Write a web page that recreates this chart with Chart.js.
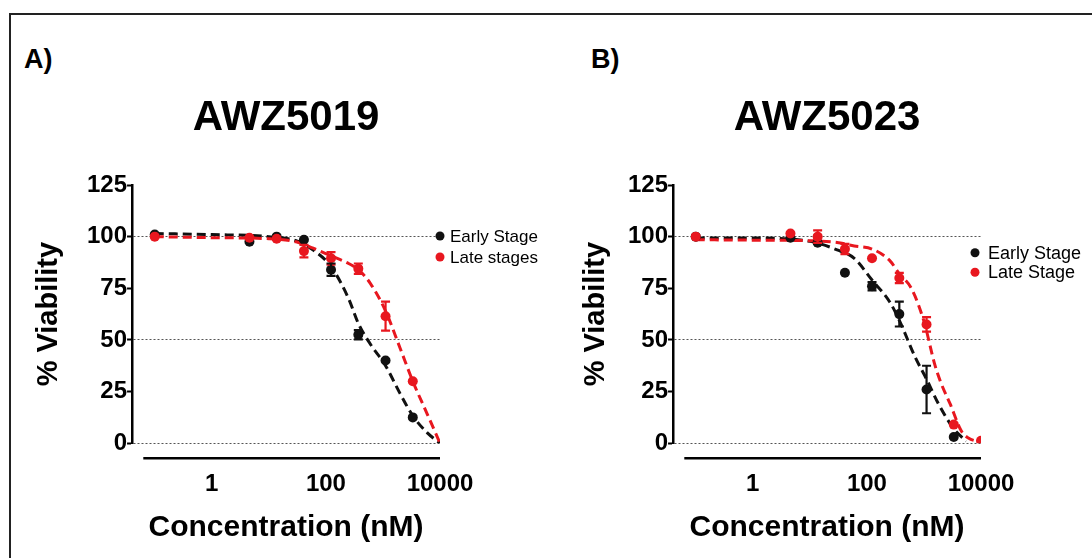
<!DOCTYPE html>
<html>
<head>
<meta charset="utf-8">
<script src="https://cdn.jsdelivr.net/npm/chart.js@4.4.1/dist/chart.umd.min.js"></script>
<style>
  html, body { margin: 0; padding: 0; background: #fff; overflow: hidden; }
  body { width: 1092px; height: 558px; position: relative; font-family: 'Liberation Sans', Arial, sans-serif; }
  #frame { position: absolute; left: 9px; top: 13px; width: 1090px; height: 550px; border-top: 2px solid #222; border-left: 2px solid #222; }
  .tag { position: absolute; top: 44px; font-weight: bold; font-size: 27px; color: #000; }
  canvas { position: absolute; top: 0; }
</style>
</head>
<body>
<div id="frame"></div>
<div class="tag" style="left:24px">A)</div>
<div class="tag" style="left:591px">B)</div>
<canvas id="chartA" style="left:0px" width="580" height="558"></canvas>
<canvas id="chartB" style="left:541px" width="586" height="558"></canvas>
<script>
// axis ticks
const yTicks = [0, 25, 50, 75, 100, 125];
const xTicks = [1, 100, 10000];
const gridValues = [0, 50, 100];

// Panel A - AWZ5019 (concentration in nM, % viability)
const concA = [0.1, 4.57, 13.7, 41.2, 123, 370, 1111, 3333];
const earlyA = [101, 97.5, 100, 98.5, 84, 52.5, 40, 12.5];
const earlyErrA = [0, 0, 0, 0, 3, 2.2, 0, 0];
const lateA = [100, 99.5, 99, 93, 89.5, 84.5, 61.5, 30];
const lateErrA = [0, 0, 0, 3, 3, 2.5, 7, 0];
const earlyFitXA = [0.1, 1, 10, 30, 60, 123, 250, 370, 600, 1111, 2000, 3333, 6000, 10000];
const earlyFitA = [101.5, 101, 100, 98, 93.5, 85.5, 70, 58, 48, 37.5, 24, 13.3, 5, 0];
const lateFitXA = [0.1, 1, 10, 30, 60, 123, 250, 370, 600, 1111, 2000, 3333, 6000, 10000];
const lateFitA = [100, 99.5, 99, 97.5, 94.4, 90.7, 87, 84, 77.4, 64, 46, 30, 14, 0];
const namesA = ['Early Stage', 'Late stages'];

// Panel B - AWZ5023
const concB = [0.1, 4.57, 13.7, 41.2, 123, 370, 1111, 3333, 10000];
const earlyB = [100, 99.5, 97, 82.5, 76, 62.5, 26, 3, null];
const earlyErrB = [0, 0, 0, 0, 2, 6, 11.5, 0, 0];
const lateB = [100, 101.5, 100, 94, 89.5, 80, 57.5, 9, 1.2];
const lateErrB = [0, 0, 3, 2.5, 0, 2.5, 3.5, 0, 0];
const earlyFitXB = [0.1, 1, 10, 30, 60, 123, 250, 370, 700, 1111, 1800, 3333, 5500];
const earlyFitB = [99.3, 99.3, 97.7, 93.6, 89.5, 79, 68.5, 59.5, 41.7, 31, 19, 7, 1];
const lateFitXB = [0.1, 1, 10, 30, 60, 123, 250, 370, 600, 1000, 1550, 2000, 2880, 4500, 6000, 10000];
const lateFitB = [98.5, 98.3, 98, 97.2, 95.5, 94, 88.5, 82, 75, 59, 38, 29, 19, 6, 2.5, 0.5];
const namesB = ['Early Stage', 'Late Stage'];

const FONT = "'Liberation Sans', Arial, Helvetica, sans-serif";
const BLACK = '#111111';
const RED = '#e8171f';

function pts(xs, ys) {
    const out = [];
    xs.forEach((x, i) => { if (ys[i] !== null) out.push({ x: x, y: ys[i] }); });
    return out;
}

// error bars with caps
const errorBars = {
    id: 'errorBars',
    afterDatasetsDraw(chart) {
        const { ctx, scales: { x, y } } = chart;
        chart.data.datasets.forEach(ds => {
            if (!ds.errors) return;
            ctx.save();
            ctx.strokeStyle = ds.backgroundColor;
            ctx.lineWidth = 2.2;
            ds.data.forEach((p, i) => {
                const e = ds.errors[i];
                if (!e) return;
                const px = x.getPixelForValue(p.x);
                const top = y.getPixelForValue(p.y + e);
                const bot = y.getPixelForValue(p.y - e);
                ctx.beginPath();
                ctx.moveTo(px, top); ctx.lineTo(px, bot);
                ctx.moveTo(px - 4.5, top); ctx.lineTo(px + 4.5, top);
                ctx.moveTo(px - 4.5, bot); ctx.lineTo(px + 4.5, bot);
                ctx.stroke();
            });
            ctx.restore();
        });
    }
};

// x axis drawn below the plot, detached from the y axis
const offsetXAxis = {
    id: 'offsetXAxis',
    afterDraw(chart, args, o) {
        const { ctx, chartArea, scales: { x } } = chart;
        const yy = chartArea.bottom + o.gap;
        ctx.save();
        ctx.strokeStyle = '#000';
        ctx.lineWidth = 2.5;
        ctx.beginPath();
        ctx.moveTo(x.getPixelForValue(o.start), yy);
        ctx.lineTo(x.getPixelForValue(x.max), yy);
        ctx.stroke();
        ctx.restore();
    }
};

// legend placed beside the top of the curves
const sideLegend = {
    id: 'sideLegend',
    afterDraw(chart, args, o) {
        const { ctx, chartArea, scales: { y } } = chart;
        const items = chart.data.datasets.filter(d => d.legendIndex !== undefined)
            .sort((a, b) => a.legendIndex - b.legendIndex);
        const y0 = y.getPixelForValue(o.atValue);
        ctx.save();
        items.forEach((d, i) => {
            const cx = chartArea.right + o.dx;
            const cy = y0 + i * o.gap;
            ctx.fillStyle = d.backgroundColor;
            ctx.beginPath();
            ctx.arc(cx, cy, 4.5, 0, Math.PI * 2);
            ctx.fill();
            ctx.fillStyle = '#000';
            ctx.font = o.size + 'px ' + FONT;
            ctx.textBaseline = 'middle';
            ctx.textAlign = 'left';
            ctx.fillText(d.label, cx + o.textDx, cy + 1);
        });
        ctx.restore();
    }
};

function drawPanel(id, p) {
    return new Chart(document.getElementById(id), {
        type: 'scatter',
        data: {
            datasets: [
                { label: p.names[1], legendIndex: 1, data: pts(p.conc, p.late), errors: p.lateErr,
                  backgroundColor: RED, pointRadius: 5, pointBorderWidth: 0 },
                { label: p.names[0], legendIndex: 0, data: pts(p.conc, p.early), errors: p.earlyErr,
                  backgroundColor: BLACK, pointRadius: 5, pointBorderWidth: 0 },
                { label: 'late fit', data: pts(p.lateFitX, p.lateFit), showLine: true, pointRadius: 0,
                  borderColor: RED, borderWidth: 3, borderDash: [9, 5], cubicInterpolationMode: 'monotone' },
                { label: 'early fit', data: pts(p.earlyFitX, p.earlyFit), showLine: true, pointRadius: 0,
                  borderColor: BLACK, borderWidth: 3, borderDash: [9, 5], cubicInterpolationMode: 'monotone' }
            ]
        },
        options: {
            responsive: false,
            animation: false,
            layout: { padding: { left: 10, right: p.padRight, top: 0, bottom: 0 } },
            scales: {
                x: {
                    type: 'logarithmic',
                    min: 0.04,
                    max: 10000,
                    afterBuildTicks: s => { s.ticks = xTicks.map(v => ({ value: v })); },
                    ticks: { callback: v => String(v), color: '#000', padding: 27, maxRotation: 0, autoSkip: false,
                             font: { family: FONT, size: 24, weight: 'bold' } },
                    grid: { display: false, drawTicks: false },
                    border: { display: false },
                    title: { display: true, text: 'Concentration (nM)', color: '#000',
                             font: { family: FONT, size: 30, weight: 'bold' }, padding: { top: -16, bottom: 12 } }
                },
                y: {
                    min: 0,
                    max: 125,
                    afterBuildTicks: s => { s.ticks = yTicks.map(v => ({ value: v })); },
                    ticks: { color: '#000', padding: 0, font: { family: FONT, size: 24, weight: 'bold' } },
                    grid: {
                        color: c => (c.tick && gridValues.includes(c.tick.value)) ? '#555' : 'rgba(0,0,0,0)',
                        lineWidth: 1, tickColor: '#000', tickLength: 5, tickWidth: 2
                    },
                    border: { display: true, color: '#000', width: 2.5, dash: [2, 2] },
                    title: { display: true, text: '% Viability', color: '#000',
                             font: { family: FONT, size: 29, weight: 'bold' },
                             padding: { top: p.yTitleTop, bottom: p.yTitleBottom } }
                }
            },
            plugins: {
                title: { display: true, text: p.title, color: '#000', fullSize: false,
                         font: { family: FONT, size: 42, weight: 'bold' }, padding: { top: 93.3, bottom: 41.3 } },
                legend: { display: false },
                tooltip: { enabled: false },
                offsetXAxis: { start: 0.063, gap: 15 },
                sideLegend: p.legend
            }
        },
        plugins: [errorBars, offsetXAxis, sideLegend]
    });
}

drawPanel('chartA', {
    title: 'AWZ5019', names: namesA,
    conc: concA, early: earlyA, earlyErr: earlyErrA, late: lateA, lateErr: lateErrA,
    earlyFitX: earlyFitXA, earlyFit: earlyFitA, lateFitX: lateFitXA, lateFit: lateFitA,
    padRight: 140, yTitleTop: 21.1, yTitleBottom: 21.1,
    legend: { atValue: 100.3, dx: 0, gap: 21, size: 17, textDx: 10 }
});

drawPanel('chartB', {
    title: 'AWZ5023', names: namesB,
    conc: concB, early: earlyB, earlyErr: earlyErrB, late: lateB, lateErr: lateErrB,
    earlyFitX: earlyFitXB, earlyFit: earlyFitB, lateFitX: lateFitXB, lateFit: lateFitB,
    padRight: 146, yTitleTop: 27.6, yTitleBottom: 14.6,
    legend: { atValue: 92.2, dx: -6, gap: 19.5, size: 18, textDx: 13 }
});
</script>
</body>
</html>
